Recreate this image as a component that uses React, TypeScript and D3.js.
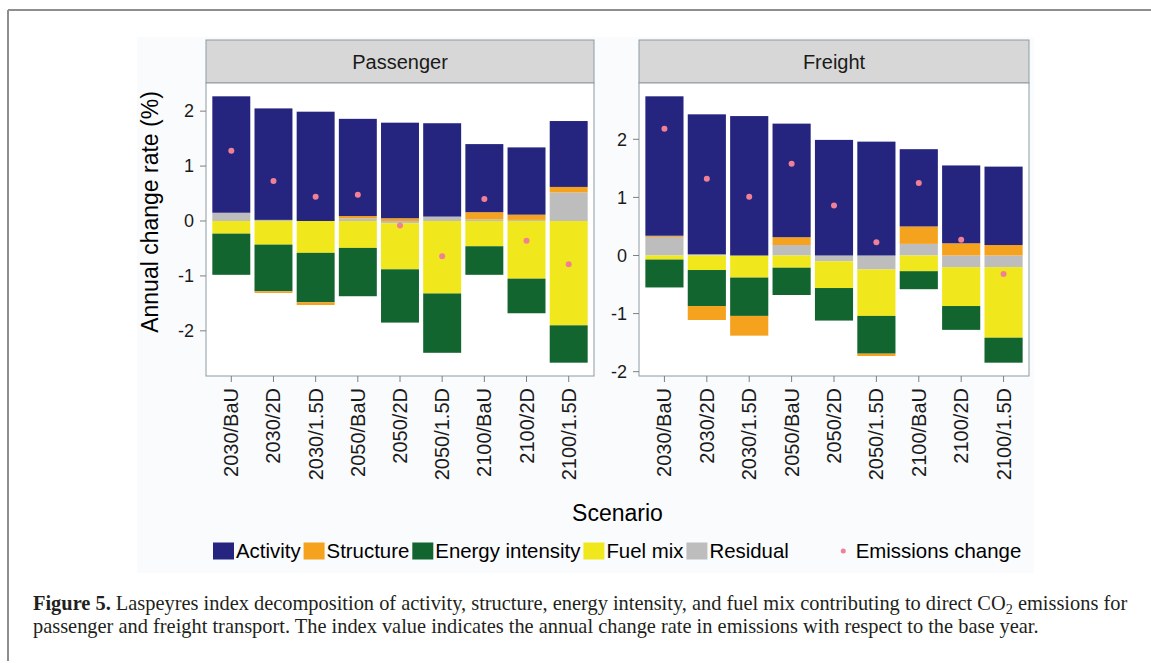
import React, { useMemo } from 'react';
import * as d3 from 'd3';

// Scenario categories (shared by both facets)
const scenarios = ['2030/BaU', '2030/2D', '2030/1.5D', '2050/BaU', '2050/2D', '2050/1.5D', '2100/BaU', '2100/2D', '2100/1.5D'];

// Decomposition factors and their fill colours
const factors = ['Activity', 'Structure', 'Energy intensity', 'Fuel mix', 'Residual'];
const factorColors = ['#25257f', '#f5a21f', '#13652f', '#f0e81c', '#bdbdbd'];

// Passenger transport contributions (% per year)
const passengerActivity = [2.12, 2.03, 1.99, 1.77, 1.74, 1.70, 1.24, 1.225, 1.20];
const passengerStructure = [0, -0.03, -0.05, 0.04, 0.05, 0, 0.13, 0.095, 0.10];
const passengerEnergy = [-0.75, -0.85, -0.90, -0.88, -0.97, -1.08, -0.52, -0.63, -0.68];
const passengerFuel = [-0.23, -0.43, -0.58, -0.49, -0.84, -1.32, -0.46, -1.05, -1.90];
const passengerResidual = [0.15, 0.02, 0, 0.05, -0.04, 0.08, 0.03, 0.02, 0.52];
const passengerEmissions = [1.28, 0.73, 0.44, 0.48, -0.08, -0.64, 0.40, -0.36, -0.79];

// Freight transport contributions (% per year)
const freightActivity = [2.40, 2.41, 2.40, 1.955, 1.99, 1.96, 1.33, 1.34, 1.35];
const freightStructure = [0.02, -0.24, -0.34, 0.135, 0, -0.04, 0.30, 0.21, 0.18];
const freightEnergy = [-0.48, -0.62, -0.66, -0.47, -0.56, -0.65, -0.31, -0.41, -0.43];
const freightFuel = [-0.07, -0.25, -0.38, -0.21, -0.46, -0.80, -0.27, -0.67, -1.215];
const freightResidual = [0.32, 0.02, 0, 0.18, -0.10, -0.24, 0.20, -0.20, -0.20];
const freightEmissions = [2.18, 1.32, 1.01, 1.58, 0.86, 0.23, 1.25, 0.27, -0.32];

const emissionsLabel = 'Emissions change';
const emissionsColor = '#ef8096';

const yTitle = 'Annual change rate (%)';
const xTitle = 'Scenario';
const captionBold = 'Figure 5.';
const captionLine1a = ' Laspeyres index decomposition of activity, structure, energy intensity, and fuel mix contributing to direct CO';
const captionLine1b = ' emissions for';
const captionLine2 = 'passenger and freight transport. The index value indicates the annual change rate in emissions with respect to the base year.';

const SANS = "'Liberation Sans', Arial, Helvetica, sans-serif";
const SERIF = "'Liberation Serif', 'Times New Roman', serif";

// factor indices stacked outward from zero
const stackOrder = [4, 3, 2, 1, 0];

function measure(text: string, font: string): number {
  const ctx = document.createElement('canvas').getContext('2d');
  if (!ctx) return text.length * 10;
  ctx.font = font;
  return ctx.measureText(text).width;
}

type PanelSpec = {
  name: string;
  x0: number;
  x1: number;
  values: number[][];
  emissions: number[];
};

const stripTop = 40;
const stripBottom = 83;
const plotBottom = 376;
const gridStroke = '#8b9ba3';
const tickStroke = '#7f7f7f';

function Panel({ spec }: { spec: PanelSpec }) {
  const { x0, x1, values, emissions, name } = spec;

  const stacks = scenarios.map((s, i) => {
    let pos = 0;
    let neg = 0;
    const segs: { k: number; a: number; b: number }[] = [];
    stackOrder.forEach((k) => {
      const v = values[k][i];
      if (v >= 0) {
        segs.push({ k, a: pos, b: pos + v });
        pos += v;
      } else {
        segs.push({ k, a: neg, b: neg + v });
        neg += v;
      }
    });
    return { s, segs, pos, neg };
  });

  const lo = d3.min(stacks, (d) => d.neg) as number;
  const hi = d3.max(stacks, (d) => d.pos) as number;
  const pad = (hi - lo) * 0.05;

  const x = d3.scaleBand<string>().domain(scenarios).range([x0, x1]).paddingInner(0.1).paddingOuter(0.15);
  const y = d3.scaleLinear().domain([lo - pad, hi + pad]).range([plotBottom, stripBottom]);
  const ticks = y.ticks(5);

  return (
    <g>
      {/* facet strip */}
      <rect x={x0} y={stripTop} width={x1 - x0} height={stripBottom - stripTop} fill="#d7d7d7" stroke={gridStroke} strokeWidth={1} />
      <text x={(x0 + x1) / 2} y={(stripTop + stripBottom) / 2} dy="0.35em" textAnchor="middle" fontFamily={SANS} fontSize={20} fill="#1a1a1a">
        {name}
      </text>
      {/* plot area */}
      <rect x={x0} y={stripBottom} width={x1 - x0} height={plotBottom - stripBottom} fill="#ffffff" />
      {stacks.map((st) =>
        st.segs
          .filter((g) => g.a !== g.b)
          .map((g) => (
            <rect
              key={st.s + g.k}
              x={x(st.s)}
              width={x.bandwidth()}
              y={y(Math.max(g.a, g.b))}
              height={Math.abs(y(g.a) - y(g.b))}
              fill={factorColors[g.k]}
            />
          ))
      )}
      {emissions.map((v, i) => (
        <circle key={'e' + i} cx={(x(scenarios[i]) as number) + x.bandwidth() / 2} cy={y(v)} r={3} fill={emissionsColor} />
      ))}
      <rect x={x0} y={stripBottom} width={x1 - x0} height={plotBottom - stripBottom} fill="none" stroke={gridStroke} strokeWidth={1} />
      {/* y axis */}
      {ticks.map((t) => (
        <g key={'yt' + t}>
          <line x1={x0 - 6} x2={x0} y1={y(t)} y2={y(t)} stroke={tickStroke} strokeWidth={1} />
          <text x={x0 - 12} y={y(t)} dy="0.35em" textAnchor="end" fontFamily={SANS} fontSize={18} fill="#1a1a1a">
            {String(t)}
          </text>
        </g>
      ))}
      {/* x axis */}
      {scenarios.map((s) => {
        const cx = (x(s) as number) + x.bandwidth() / 2;
        return (
          <g key={'xt' + s}>
            <line x1={cx} x2={cx} y1={plotBottom} y2={plotBottom + 6} stroke={tickStroke} strokeWidth={1} />
            <text
              transform={`translate(${cx},${plotBottom + 12}) rotate(-90)`}
              dy="0.35em"
              textAnchor="end"
              fontFamily={SANS}
              fontSize={20}
              fill="#1a1a1a"
            >
              {s}
            </text>
          </g>
        );
      })}
    </g>
  );
}

export default function App() {
  const W = 1151;
  const H = 663;

  const panels: PanelSpec[] = [
    {
      name: 'Passenger',
      x0: 206,
      x1: 594,
      values: [passengerActivity, passengerStructure, passengerEnergy, passengerFuel, passengerResidual],
      emissions: passengerEmissions,
    },
    {
      name: 'Freight',
      x0: 639,
      x1: 1029,
      values: [freightActivity, freightStructure, freightEnergy, freightFuel, freightResidual],
      emissions: freightEmissions,
    },
  ];

  const plotCenter = (panels[0].x0 + panels[1].x1) / 2;

  // legend layout
  const legendFont = 20.4;
  const keyW = 21;
  const keyH = 17;
  const legendLeft = 213;
  const legend = useMemo(() => {
    const font = `${legendFont}px ${SANS}`;
    const keyGap = 2;
    const itemGap = 3;
    const groupGap = 44;
    const items: { kind: 'fill' | 'dot'; label: string; color: string; kx: number; tx: number }[] = [];
    let cur = 0;
    factors.forEach((f, i) => {
      items.push({ kind: 'fill', label: f, color: factorColors[i], kx: cur, tx: cur + keyW + keyGap });
      cur += keyW + keyGap + measure(f, font) + itemGap;
    });
    cur += groupGap - itemGap;
    items.push({ kind: 'dot', label: emissionsLabel, color: emissionsColor, kx: cur, tx: cur + keyW + keyGap });
    return items.map((it) => ({ ...it, kx: it.kx + legendLeft, tx: it.tx + legendLeft }));
  }, []);

  // caption scaled to the text block width
  const captionFont = 21;
  const captionX = 33;
  const captionRight = 1128;
  const captionScale = useMemo(() => {
    const w =
      measure(captionBold, `bold ${captionFont}px ${SERIF}`) +
      measure(captionLine1a + captionLine1b, `${captionFont}px ${SERIF}`) +
      measure('2', `${captionFont * 0.7}px ${SERIF}`);
    return (captionRight - captionX) / w;
  }, []);

  const legendY = 551;

  return (
    <svg width={W} height={H} style={{ position: 'absolute', left: 0, top: 0, display: 'block' }} xmlns="http://www.w3.org/2000/svg">
      <rect x={0} y={0} width={W} height={H} fill="#ffffff" />
      {/* figure frame */}
      <line x1={8} x2={W} y1={10} y2={10} stroke="#8e8e8e" strokeWidth={2} />
      <line x1={8} x2={8} y1={10} y2={661} stroke="#8e8e8e" strokeWidth={2} />
      {/* chart canvas */}
      <rect x={137} y={37} width={897} height={536} fill="#fafbfd" />

      {panels.map((p) => (
        <Panel key={p.name} spec={p} />
      ))}

      {/* axis titles */}
      <text
        transform={`translate(150,${(stripTop + plotBottom) / 2 + 4}) rotate(-90)`}
        dy="0.35em"
        textAnchor="middle"
        fontFamily={SANS}
        fontSize={23}
        fill="#000"
      >
        {yTitle}
      </text>
      <text x={plotCenter} y={521} textAnchor="middle" fontFamily={SANS} fontSize={23} fill="#000">
        {xTitle}
      </text>

      {/* legend */}
      {legend.map((it) => (
        <g key={it.label}>
          {it.kind === 'fill' ? (
            <rect x={it.kx} y={legendY - keyH / 2} width={keyW} height={keyH} fill={it.color} />
          ) : (
            <circle cx={it.kx + keyW / 2} cy={legendY} r={2.5} fill={it.color} />
          )}
          <text x={it.tx} y={legendY} dy="0.35em" fontFamily={SANS} fontSize={legendFont} fill="#000">
            {it.label}
          </text>
        </g>
      ))}

      {/* caption */}
      <g transform={`translate(${captionX},0) scale(${captionScale},1)`}>
        <text x={0} y={610} fontFamily={SERIF} fontSize={captionFont} fill="#231f20">
          <tspan fontWeight="bold">{captionBold}</tspan>
          <tspan>{captionLine1a}</tspan>
          <tspan fontSize={captionFont * 0.7} dy={4}>2</tspan>
          <tspan dy={-4}>{captionLine1b}</tspan>
        </text>
        <text x={0} y={633} fontFamily={SERIF} fontSize={captionFont} fill="#231f20">
          {captionLine2}
        </text>
      </g>
    </svg>
  );
}
